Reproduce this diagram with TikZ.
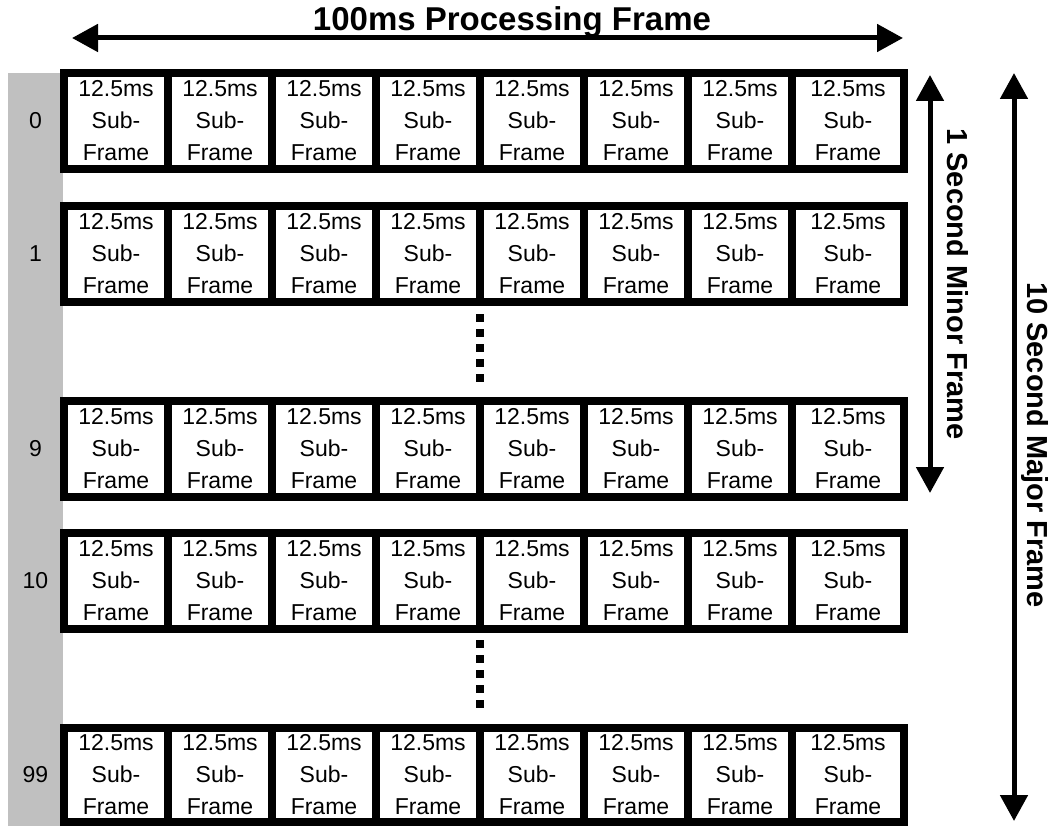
\documentclass[tikz,border=0pt]{standalone}
\usepackage{fontspec}
\setmainfont{Liberation Sans}
\usetikzlibrary{arrows.meta}
\definecolor{bargray}{RGB}{192,192,192}
\begin{document}
\begin{tikzpicture}[x=1pt,y=-1pt,
  cell/.style={draw=black, fill=white, line width=8pt, inner sep=0pt, outer sep=0pt,
    align=center, font=\fontsize{23}{32}\selectfont},
  rowlabel/.style={font=\fontsize{23}{28}\selectfont, inner sep=0pt},
  dimarrow/.style={line width=5pt, {Triangle[length=26pt,width=27pt]}-{Triangle[length=26pt,width=27pt]}},
  dimlabel/.style={font=\bfseries\fontsize{29}{34}\selectfont, inner sep=0pt},
  titlelabel/.style={font=\bfseries\fontsize{33}{38}\selectfont, inner sep=0pt},
  dotcol/.style={line width=7.5pt, dash pattern=on 7.5pt off 7.5pt}
]
\useasboundingbox (0,0) rectangle (1055,826);
\fill[bargray] (8,73) rectangle (63,826);
\foreach \lab/\top/\h in {0/69/104,1/202/104,9/397/104,10/529/104,99/724/102} {
  \pgfmathsetmacro\cy{\top+\h/2}
  \pgfmathsetmacro\ih{\h-8}
  \node[rowlabel] (lab\lab) at (35.5,\cy) {\lab};
  \foreach \c in {1,...,7} {
    \node[cell, minimum width=104pt, minimum height=\ih pt] (c\lab-\c) at ({116+104*(\c-1)},\cy) {12.5ms\\Sub-\\Frame};
  }
  \node[cell, minimum width=112pt, minimum height=\ih pt] (c\lab-8) at (848,\cy) {12.5ms\\Sub-\\Frame};
}
% dots
\coordinate (da1) at (480,314.25);
\coordinate (db1) at (480,381.75);
\coordinate (da2) at (480,640.25);
\coordinate (db2) at (480,707.75);
\draw[dotcol] (da1) -- (db1);
\draw[dotcol] (da2) -- (db2);
% horizontal dimension
\coordinate (hl) at (72,38);
\coordinate (hr) at (903,38);
\draw[dimarrow] (hl) -- (hr);
\node[titlelabel, anchor=base] (title) at (512,31) {100ms Processing Frame};
% minor frame
\coordinate (mt) at (930,75);
\coordinate (mb) at (930,493);
\draw[dimarrow] (mt) -- (mb);
\node[dimlabel, anchor=base, rotate=-90] (minor) at (947,284) {1 Second Minor Frame};
% major frame
\coordinate (Mt) at (1014,73);
\coordinate (Mb) at (1014,821);
\draw[dimarrow] (Mt) -- (Mb);
\node[dimlabel, anchor=base, rotate=-90] (major) at (1027,445) {10 Second Major Frame};
\end{tikzpicture}
\end{document}
